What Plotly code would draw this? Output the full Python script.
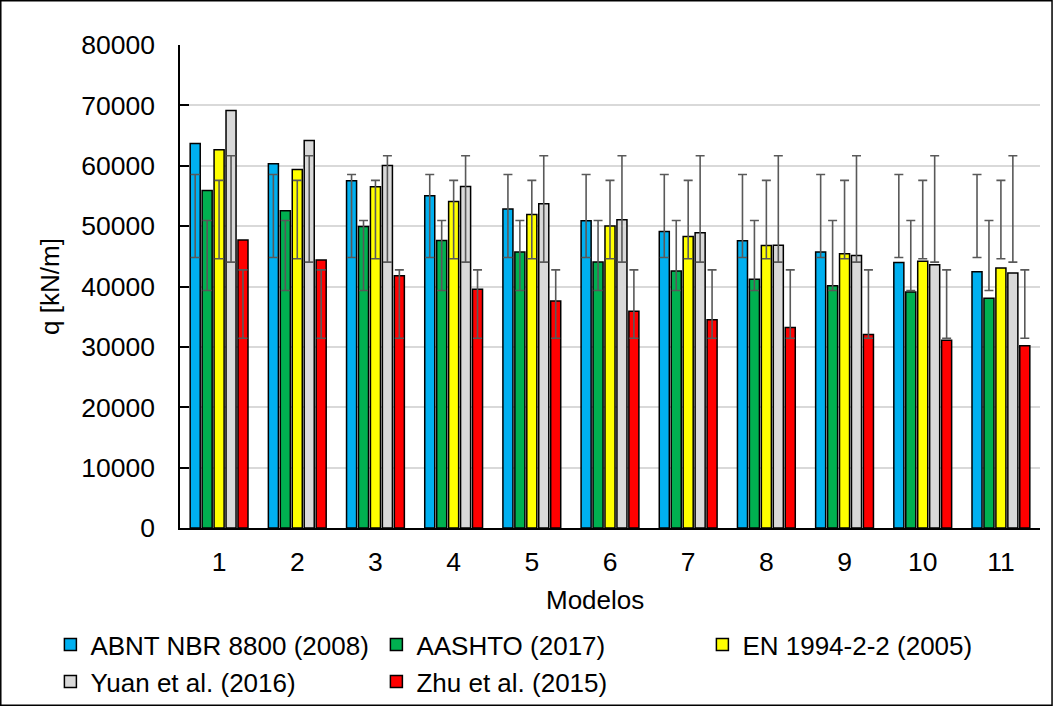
import plotly.graph_objects as go

modelos = ["1", "2", "3", "4", "5", "6", "7", "8", "9", "10", "11"]

abnt = [63700, 60330, 57520, 55030, 52830, 50890, 49120, 47570, 45700, 43980, 42430]
aashto = [55900, 52540, 49950, 47620, 45700, 44040, 42550, 41220, 40110, 39070, 38070]
en1994 = [62650, 59390, 56520, 54090, 51930, 50010, 48290, 46790, 45420, 44200, 43050]
yuan = [69170, 64200, 60060, 56570, 53700, 51050, 48900, 46850, 45140, 43590, 42220]
zhu = [47690, 44370, 41770, 39560, 37580, 35920, 34480, 33200, 32040, 31110, 30170]

# error bar limits (absolute low / high) for each series
abnt_low = [44800] * 11
abnt_high = [58560] * 11
aashto_low = [39330] * 11
aashto_high = [50940] * 11
en1994_low = [44590] * 11
en1994_high = [57570] * 11
yuan_low = [44040] * 11
yuan_high = [61660] * 11
zhu_low = [31420] * 11
zhu_high = [42760] * 11

series = [
    ("ABNT NBR 8800 (2008)", abnt, abnt_low, abnt_high, "#00B0F0"),
    ("AASHTO (2017)", aashto, aashto_low, aashto_high, "#00B050"),
    ("EN 1994-2-2 (2005)", en1994, en1994_low, en1994_high, "#FFFF00"),
    ("Yuan et al. (2016)", yuan, yuan_low, yuan_high, "#D9D9D9"),
    ("Zhu et al. (2015)", zhu, zhu_low, zhu_high, "#FF0000"),
]

FONT = "Liberation Sans, Arial, sans-serif"
FS = 26
TFS = 26.5

fig = go.Figure()
for name, vals, lo, hi, col in series:
    plus = [h - v for h, v in zip(hi, vals)]
    minus = [v - l for v, l in zip(vals, lo)]
    fig.add_trace(go.Bar(
        name=name, x=modelos, y=vals,
        marker=dict(color=col, line=dict(color="#000000", width=1.5)),
        error_y=dict(type="data", symmetric=False, array=plus, arrayminus=minus,
                     color="#595959", thickness=1.6, width=4.5),
    ))

fig.update_layout(
    width=1053, height=706,
    paper_bgcolor="white", plot_bgcolor="white",
    margin=dict(l=180, r=13, t=45, b=178, autoexpand=False),
    barmode="group", bargap=0.236, bargroupgap=0.16,
    font=dict(family=FONT, size=FS, color="#000000"),
    showlegend=True,
    legend=dict(orientation="h", x=-0.1507, xanchor="left", y=-0.193, yanchor="top",
                font=dict(family=FONT, size=FS, color="#000000"),
                entrywidth=281, entrywidthmode="pixels",
                bgcolor="rgba(0,0,0,0)", tracegroupgap=0, itemwidth=30),
    xaxis=dict(type="category", showline=True, linecolor="#000000", linewidth=1.5,
               showgrid=False, ticks="", tickfont=dict(size=TFS),
               ticklabelstandoff=9, automargin=False),
    yaxis=dict(range=[0, 80000], dtick=10000, tickformat="d", showline=True,
               linecolor="#000000", automargin=False,
               linewidth=1.5, showgrid=True, gridcolor="#D9D9D9", gridwidth=1.5,
               ticks="inside", ticklen=9, tickcolor="#000000", tickwidth=1.5,
               tickfont=dict(size=TFS), ticklabelstandoff=18, zeroline=False,
               title=dict(text="q [kN/m]", font=dict(size=FS), standoff=14)),
    annotations=[dict(text="Modelos", xref="paper", yref="paper",
                      x=0.482, y=-0.1495, xanchor="center", yanchor="middle",
                      showarrow=False, font=dict(size=FS))],
    shapes=[dict(type="rect", xref="paper", yref="paper",
                 x0=-0.2084, x1=1.0140, y0=-0.367, y1=1.0916,
                 line=dict(color="#000000", width=1.5), fillcolor="rgba(0,0,0,0)",
                 layer="above")],
)

fig.write_html("out.html", config={"displayModeBar": False},
               post_script="document.body.style.margin='0';document.body.style.overflow='hidden';")
